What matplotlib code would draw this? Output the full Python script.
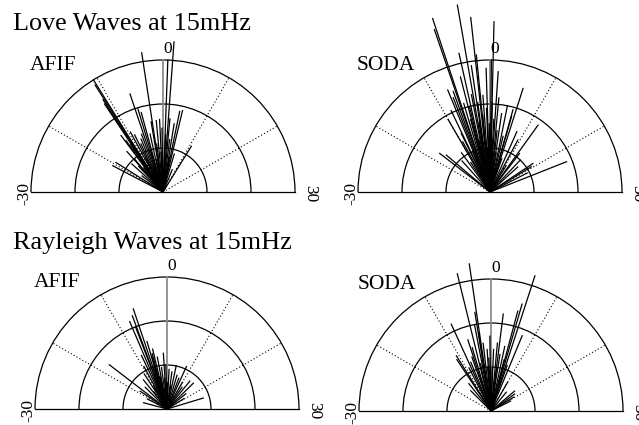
import numpy as np
import matplotlib
matplotlib.use("Agg")
import matplotlib.pyplot as plt
from matplotlib.patches import Arc

plt.rcParams['font.family'] = ['Liberation Serif', 'DejaVu Serif']

# azimuth (deg, -30..30) and amplitude of each measurement
love_afif_angle = [-10.6, -10.8, -11.0, -11.2, -2.9, 1.4, 0.7, -6.2, -5.6, -5.1,
                   -3.2, -1.8, -0.9, 1.8, 3.1, 3.9, 4.5, -12.2, -11.9, -11.5,
                   -13.9, -10.7, -7.5, -20.8, -19.3, -13.6, 10.6, -8.8, -9.5, -8.2,
                   -6.8, -4.2, -2.5, -0.3, 0.9, 2.4, 5.5, 7.5, -16.0, -14.5,
                   -12.8, -9.0, -5.5, -3.8, -1.0, 1.0, 3.5, -17.5, -7.0]
love_afif_len = [3.00, 2.88, 2.50, 2.40, 3.20, 3.42, 3.00, 2.35, 1.97, 1.87,
                 1.62, 1.63, 1.65, 1.67, 1.57, 1.87, 1.90, 1.60, 1.44, 1.30,
                 1.23, 1.15, 1.30, 1.29, 1.26, 0.99, 1.22, 1.45, 1.55, 1.20,
                 1.40, 1.35, 1.10, 1.45, 1.30, 1.20, 0.90, 0.55, 0.95, 0.80,
                 0.70, 0.85, 0.95, 0.75, 0.90, 0.70, 0.80, 0.60, 0.60]

love_soda_angle = [-6.1, -6.3, -3.3, -2.1, 0.45, -4.2, -1.9, -0.6, 0.2, 1.3,
                   -2.8, -4.8, 5.9, -7.5, -6.7, -7.1, 11.9, 22.8, 18.8, 19.5,
                   21.0, -17.5, -16.6, -8.7, -9.5, 5.2, 5.3, 9.4, 8.0, 12.5,
                   14.5, 16.0, -5.5, -4.5, -3.6, -2.6, -1.4, -0.8, 0.5, 1.8,
                   2.8, 3.8, -5.0, -3.0, -1.8, -0.2, 1.0, 2.2, 4.4, -12.0,
                   -14.0, -11.0, -7.8, -4.0, -1.2, 0.8, 3.0, 6.5, 10.5, -10.0,
                   -8.5]
love_soda_len = [4.15, 3.90, 4.31, 3.99, 3.87, 3.23, 3.13, 2.81, 3.00, 2.74,
                 2.90, 2.70, 2.47, 2.51, 2.43, 2.30, 1.87, 1.87, 1.17, 1.10,
                 0.95, 1.44, 1.30, 1.48, 1.30, 1.94, 1.79, 1.34, 1.50, 1.10,
                 1.00, 0.85, 2.10, 2.00, 2.25, 2.05, 2.20, 1.90, 2.05, 2.15,
                 1.80, 2.00, 1.70, 1.60, 1.75, 1.55, 1.65, 1.40, 1.30, 1.10,
                 0.95, 0.80, 1.00, 1.20, 1.00, 1.10, 0.90, 0.80, 0.70, 1.90,
                 2.05]

rayl_afif_angle = [-6.2, -6.8, -7.7, -7.0, -17.5, -1.25, 8.2, 15.2, 13.1, 24.4,
                   -25.0, -18.8, -5.5, -4.5, -3.5, -8.5, -9.5, -11.0, -13.0, -15.0,
                   -21.0, -6.0, -2.5, -0.5, 1.0, 2.5, 4.0, 5.5, 7.0, 10.0,
                   11.5, 17.0, -1.5, 0.5, 3.0, -4.0, -7.5, -10.0, -12.5, 19.5,
                   -5.4, -5.0]
rayl_afif_len = [2.40, 2.26, 2.16, 2.00, 1.65, 1.27, 1.06, 0.84, 0.82, 0.86,
                 0.55, 0.73, 1.60, 1.40, 1.20, 1.35, 1.10, 0.95, 0.85, 0.70,
                 0.50, 1.00, 0.95, 1.00, 0.90, 0.85, 1.00, 0.80, 0.75, 0.70,
                 0.60, 0.55, 0.70, 0.60, 0.55, 0.75, 0.80, 0.60, 0.50, 0.45,
                 1.24, 1.30]

rayl_soda_angle = [-2.8, -4.6, 6.0, -8.2, 2.4, 5.4, 5.0, 7.5, -10.7, -11.2,
                   -0.3, 18.1, 16.6, 19.5, 21.0, -3.6, -3.0, -2.2, -1.2, -5.5,
                   -6.5, -7.5, -9.0, 0.8, 1.8, 3.0, 4.0, 4.8, 6.5, -4.2,
                   -1.5, 0.5, 2.5, -13.0, -15.0, 10.0, 13.0, -0.8, -3.1, -6.0]
rayl_soda_len = [3.38, 3.21, 3.23, 2.17, 2.22, 2.53, 2.35, 1.85, 1.48, 1.40,
                 1.70, 0.66, 0.70, 0.60, 0.50, 2.00, 1.80, 1.55, 1.40, 1.50,
                 1.30, 1.20, 1.10, 1.40, 1.55, 1.30, 1.50, 1.20, 1.10, 1.10,
                 1.00, 1.00, 0.95, 0.80, 0.65, 0.75, 0.55, 1.20, 2.27, 1.70]

ring_radii = [1, 2, 3]
spoke_angles = [-20, -10, 10, 20]

W, H = 639, 425
S = 44.0  # pixels per amplitude unit


def to_xy(angle, length):
    # angle range -30..30 is spread over the half circle
    a = np.deg2rad(np.asarray(angle) * 3.0)
    r = np.asarray(length)
    return r * np.sin(a), r * np.cos(a)


def half_polar(fig, cx, cy, station, angle, length):
    x0, x1, y0, y1 = -3.7, 3.7, -0.4, 4.5
    ax = fig.add_axes([(cx + x0 * S) / W, (H - cy + y0 * S) / H,
                       (x1 - x0) * S / W, (y1 - y0) * S / H])
    ax.set_xlim(x0, x1)
    ax.set_ylim(y0, y1)
    ax.axis('off')
    ax.patch.set_alpha(0)

    for r in ring_radii:
        ax.add_patch(Arc((0, 0), 2 * r, 2 * r, theta1=0, theta2=180,
                         color='black', lw=0.9))
    ax.plot([-3, 3], [0, 0], color='black', lw=0.9)
    for sa in spoke_angles:
        sx, sy = to_xy(sa, 3)
        ax.plot([0, sx], [0, sy], color='black', lw=0.8, ls=(0, (1, 2)))
    ax.plot([0, 0], [0, 3], color='#8c8c8c', lw=1.3)

    xs, ys = to_xy(angle, length)
    for x, y in zip(xs, ys):
        ax.plot([0, x], [0, y], color='black', lw=0.9)

    ax.text(-3.02, 2.77, station, fontsize=15.5, ha='left', va='baseline')
    ax.text(0.11, 3.15, '0', fontsize=12.5, ha='center', va='baseline')
    ax.text(-3.15, -0.03, '-30', fontsize=12.5, rotation=90,
            ha='center', va='center')
    ax.text(3.34, -0.03, '30', fontsize=12.5, rotation=-90,
            ha='center', va='center')
    return ax


fig = plt.figure(figsize=(W / 100, H / 100), dpi=100)

half_polar(fig, 163, 192, 'AFIF', love_afif_angle, love_afif_len)
half_polar(fig, 490, 192, 'SODA', love_soda_angle, love_soda_len)
half_polar(fig, 167, 409, 'AFIF', rayl_afif_angle, rayl_afif_len)
half_polar(fig, 491, 411, 'SODA', rayl_soda_angle, rayl_soda_len)

fig.text(13 / W, 1 - 30 / H, 'Love Waves at 15mHz', fontsize=18.8,
         ha='left', va='baseline')
fig.text(13 / W, 1 - 249 / H, 'Rayleigh Waves at 15mHz', fontsize=18.8,
         ha='left', va='baseline')

fig.savefig('out.png', dpi=100)
plt.close(fig)
